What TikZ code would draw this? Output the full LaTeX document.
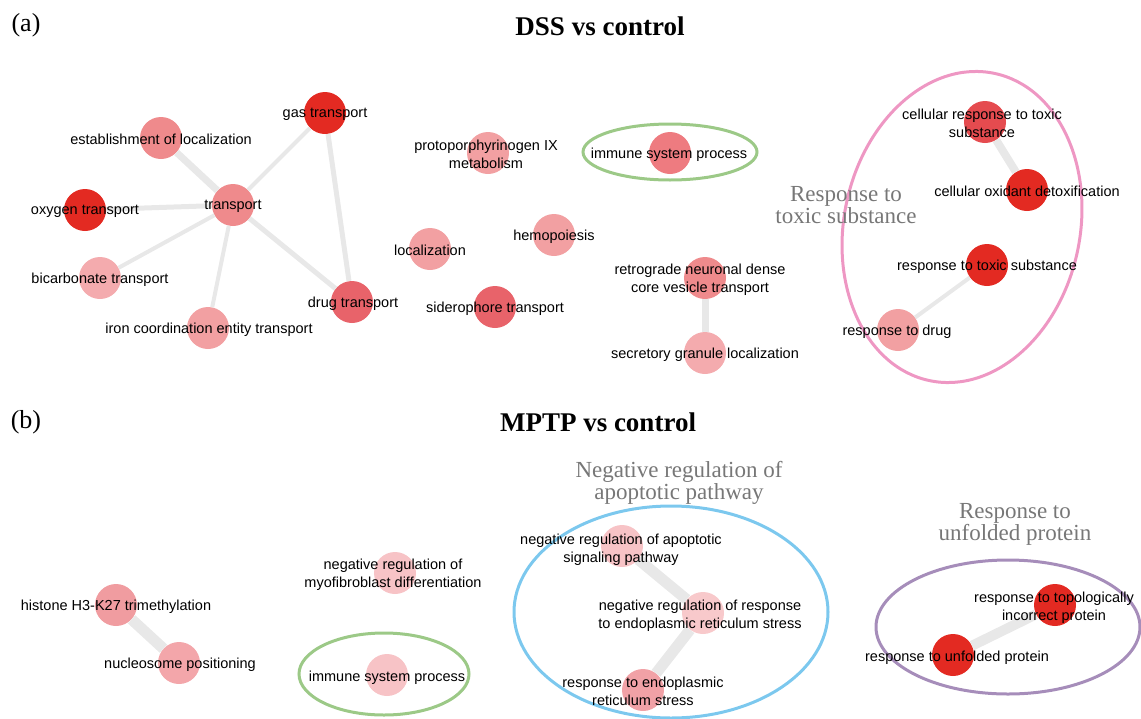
\documentclass[tikz,border=0pt]{standalone}
\usepackage{fontspec}
\setmainfont{Liberation Serif}
\setsansfont{Liberation Sans}
\usetikzlibrary{shapes.geometric}

\definecolor{deepred}{HTML}{E32A22}
\definecolor{cellred}{HTML}{E54B4F}
\definecolor{drugred}{HTML}{E8636A}
\definecolor{immred}{HTML}{EE7B80}
\definecolor{midred}{HTML}{EF8A8C}
\definecolor{softred}{HTML}{F2A0A2}
\definecolor{palered}{HTML}{F4ABAE}
\definecolor{blush}{HTML}{F7C3C6}
\definecolor{histred}{HTML}{F09CA0}
\definecolor{nuclred}{HTML}{F3A6AA}
\definecolor{lightblush}{HTML}{F8C9CB}
\definecolor{errred}{HTML}{F1A1A6}
\definecolor{linkgrey}{HTML}{E8E8E8}
\definecolor{titlegrey}{HTML}{777777}
\definecolor{ringgreen}{HTML}{9CC987}
\definecolor{ringpink}{HTML}{EE97C3}
\definecolor{ringblue}{HTML}{7CC8EE}
\definecolor{ringpurple}{HTML}{A68DBA}

\begin{document}
\begin{tikzpicture}[x=1pt, y=-1pt,
    term/.style={circle, fill=#1, minimum size=42pt, inner sep=0pt},
    termtext/.style={font=\sffamily\fontsize{14.5}{18}\selectfont, align=center, inner sep=0pt, yshift=-1.5pt},
    link/.style={draw=linkgrey, line width=#1},
    ring/.style={ellipse, draw=#1, line width=3pt, inner sep=0pt},
    grouptitle/.style={font=\fontsize{23}{22}\selectfont, text=titlegrey, align=center},
    paneltitle/.style={font=\bfseries\fontsize{27}{27}\selectfont},
    panellabel/.style={font=\fontsize{26}{26}\selectfont}
    ]
    \useasboundingbox (0,0) rectangle (1141,718);

    % (a) DSS vs control
    \node [panellabel] (pa) at (26,25) {(a)};
    \node [paneltitle] (ta) at (600,26) {DSS vs control};

    \node [ring=ringgreen, minimum width=174pt, minimum height=56pt] (ga) at (670,152) {};
    \node [ring=ringpink, minimum width=236pt, minimum height=314pt, rotate=-12] (gb) at (962,227) {};
    \node [grouptitle] (gbt) at (846,205) {Response to\\toxic substance};

    \node [term=deepred] (a1) at (325,113) {};
    \node [term=midred] (a2) at (161,138) {};
    \node [term=midred] (a3) at (233,205) {};
    \node [term=deepred] (a4) at (85,210) {};
    \node [term=palered] (a5) at (100,278) {};
    \node [term=softred] (a6) at (208,328) {};
    \node [term=drugred] (a7) at (352,302) {};
    \node [term=softred] (a8) at (488,153) {};
    \node [term=immred] (a9) at (670,153) {};
    \node [term=softred] (a10) at (430,249) {};
    \node [term=softred] (a11) at (554,235) {};
    \node [term=drugred] (a12) at (495,307) {};
    \node [term=midred] (a13) at (705,278) {};
    \node [term=palered] (a14) at (705,353) {};
    \node [term=cellred] (a15) at (985,122) {};
    \node [term=deepred] (a16) at (1027,190) {};
    \node [term=deepred] (a17) at (987,265) {};
    \node [term=softred] (a18) at (898,330) {};

    \draw [link=4pt] (a3) edge (a1);
    \draw [link=7pt] (a3) edge (a2);
    \draw [link=5pt] (a3) edge (a4);
    \draw [link=4pt] (a3) edge (a5);
    \draw [link=4pt] (a3) edge (a6);
    \draw [link=5pt] (a3) edge (a7);
    \draw [link=5pt] (a1) edge (a7);
    \draw [link=7pt] (a13) edge (a14);
    \draw [link=8pt] (a15) edge (a16);
    \draw [link=4pt] (a17) edge (a18);

    \node [termtext] (a1t) at (325,113) {gas transport};
    \node [termtext] (a2t) at (161,138) {establishment of localization};
    \node [termtext] (a3t) at (233,205) {transport};
    \node [termtext] (a4t) at (85,210) {oxygen transport};
    \node [termtext] (a5t) at (100,278) {bicarbonate transport};
    \node [termtext] (a6t) at (209,328) {iron coordination entity transport};
    \node [termtext] (a7t) at (353,302) {drug transport};
    \node [termtext] (a8t) at (486,153) {protoporphyrinogen IX\\metabolism};
    \node [termtext] (a9t) at (669,153) {immune system process};
    \node [termtext] (a10t) at (430,249) {localization};
    \node [termtext] (a11t) at (554,235) {hemopoiesis};
    \node [termtext] (a12t) at (495,307) {siderophore transport};
    \node [termtext] (a13t) at (700,278) {retrograde neuronal dense\\core vesicle transport};
    \node [termtext] (a14t) at (705,353) {secretory granule localization};
    \node [termtext] (a15t) at (982,122) {cellular response to toxic\\substance};
    \node [termtext] (a16t) at (1027,190) {cellular oxidant detoxification};
    \node [termtext] (a17t) at (987,265) {response to toxic substance};
    \node [termtext] (a18t) at (897,330) {response to drug};

    % (b) MPTP vs control
    \node [panellabel] (pb) at (26,422) {(b)};
    \node [paneltitle] (tb) at (598,422) {MPTP vs control};

    \node [ring=ringgreen, minimum width=170pt, minimum height=82pt] (gc) at (384,674) {};
    \node [ring=ringblue, minimum width=314pt, minimum height=212pt] (gd) at (671,612) {};
    \node [ring=ringpurple, minimum width=264pt, minimum height=134pt] (ge) at (1008,627) {};
    \node [grouptitle] (gdt) at (679,483) {Negative regulation of\\apoptotic pathway};
    \node [grouptitle] (get) at (1015,524) {Response to\\unfolded protein};

    \node [term=histred] (b1) at (116,605) {};
    \node [term=nuclred] (b2) at (179,663) {};
    \node [term=blush] (b3) at (395,573) {};
    \node [term=blush] (b4) at (387,675) {};
    \node [term=blush] (b5) at (622,546) {};
    \node [term=lightblush] (b6) at (703,613) {};
    \node [term=errred] (b7) at (643,690) {};
    \node [term=deepred] (b8) at (1055,605) {};
    \node [term=deepred] (b9) at (953,655) {};

    \draw [link=11pt] (b1) edge (b2);
    \draw [link=11pt] (b5) edge (b6);
    \draw [link=11pt] (b6) edge (b7);
    \draw [link=10pt] (b8) edge (b9);

    \node [termtext] (b1t) at (116,605) {histone H3-K27 trimethylation};
    \node [termtext] (b2t) at (180,663) {nucleosome positioning};
    \node [termtext] (b3t) at (393,573) {negative regulation of\\myofibroblast differentiation};
    \node [termtext] (b4t) at (387,676) {immune system process};
    \node [termtext] (b5t) at (621,548) {negative regulation of apoptotic\\signaling pathway};
    \node [termtext] (b6t) at (700,614) {negative regulation of response\\to endoplasmic reticulum stress};
    \node [termtext] (b7t) at (643,690) {response to endoplasmic\\reticulum stress};
    \node [termtext] (b8t) at (1054,606) {response to topologically\\incorrect protein};
    \node [termtext] (b9t) at (957,656) {response to unfolded protein};
\end{tikzpicture}
\end{document}
